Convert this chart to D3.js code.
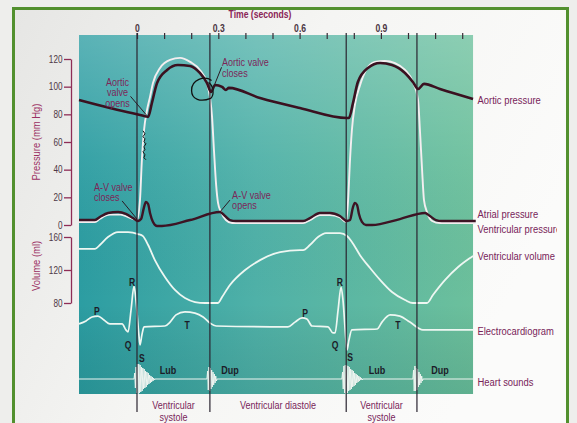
<!DOCTYPE html>
<html><head><meta charset="utf-8">
<script src="https://cdn.jsdelivr.net/npm/d3@7"></script>
<style>
html,body{margin:0;padding:0;background:#ededeb;}
svg{display:block;}
text{font-family:"Liberation Sans",Arial,Helvetica,sans-serif;}
</style></head><body>
<svg id="chart" width="577" height="423"></svg>
<script>
// ---------- DATA ----------
const timeTicks = [0,0.1,0.2,0.3,0.4,0.5,0.6,0.7,0.8,0.9,1.0,1.1,1.2];
const timeTickLabels = {"0":"0","0.3":"0.3","0.6":"0.6","0.9":"0.9"};
const pressureTicks = [0,20,40,60,80,100,120];
const volumeTicks = [80,120,160];
const phaseLines = [0, 0.269, 0.772, 1.033];

// [time (s), pressure (mm Hg)]
const aorticPressure = [[-0.214,90.4],[-0.10,84.6],[0.033,78.5],[0.041,78.1],[0.055,88.2],[0.074,102.7],[0.111,112.1],[0.151,115.7],[0.196,115.0],[0.232,109.9],[0.258,102.7],[0.273,96.2],[0.288,101.2],[0.314,99.8],[0.328,97.6],[0.339,99.1],[0.454,91.8],[0.601,84.6],[0.775,77.4],[0.782,77.4],[0.797,88.2],[0.815,103.4],[0.852,113.5],[0.897,117.1],[0.941,115.7],[0.989,109.9],[1.018,103.4],[1.037,98.3],[1.059,102.0],[1.118,98.3],[1.24,91.1]];
const atrialPressure = [[-0.214,3.6],[-0.155,3.6],[-0.137,5.8],[-0.107,8.7],[-0.07,9.4],[-0.041,8],[-0.015,5],[0.004,2.9],[0.015,4.3],[0.026,13],[0.033,16.6],[0.041,15.2],[0.048,8.7],[0.059,2.2],[0.074,-0.7],[0.092,-0.7],[0.196,3.6],[0.306,9.4],[0.325,6.5],[0.343,3.6],[0.365,2.9],[0.613,2.9],[0.638,5],[0.675,8.7],[0.712,8.7],[0.749,6.5],[0.775,2.9],[0.786,3.6],[0.797,13],[0.804,16],[0.812,14.5],[0.819,8],[0.83,2.2],[0.845,0],[0.867,0],[0.97,4.3],[1.063,8.7],[1.081,6.5],[1.103,3.6],[1.125,2.9],[1.25,2.9]];
const ventricularPressure = [[-0.214,2.2],[-0.155,2.2],[-0.137,4.5],[-0.10,7.5],[-0.06,7.5],[-0.03,5.5],[0,3.6],[0.011,18],[0.018,47],[0.026,68.7],[0.037,83],[0.048,92.6],[0.059,102.7],[0.085,113.5],[0.122,119.3],[0.159,120.8],[0.196,117.9],[0.232,112.1],[0.258,102.7],[0.269,92.6],[0.277,78],[0.284,54],[0.292,29],[0.299,16],[0.31,9.4],[0.328,3.6],[0.351,1.4],[0.613,1.4],[0.638,3.5],[0.675,7.2],[0.712,7.2],[0.749,5.5],[0.771,2.2],[0.779,18],[0.786,47],[0.793,68.7],[0.804,86.8],[0.823,101],[0.845,112],[0.878,117.9],[0.915,118.6],[0.952,117.1],[0.989,112.1],[1.018,103.4],[1.037,90.4],[1.044,68.7],[1.052,39.8],[1.059,18],[1.07,9.4],[1.089,2.9],[1.118,1.4],[1.25,1.4]];
// [time (s), volume (ml)]
const ventricularVolume = [[-0.214,145.5],[-0.155,145.5],[-0.137,150.3],[-0.107,160],[-0.07,166],[-0.033,166],[0.004,163.6],[0.022,161],[0.041,150.3],[0.066,132],[0.103,111.5],[0.14,95.8],[0.177,86],[0.214,81.2],[0.251,80],[0.299,80],[0.314,87.3],[0.343,101.8],[0.399,120],[0.454,132],[0.528,141.8],[0.601,144.2],[0.613,144.2],[0.638,150.3],[0.668,160],[0.697,164.8],[0.749,164.8],[0.775,161.2],[0.793,154],[0.823,138],[0.86,122.4],[0.897,108],[0.941,93.3],[0.989,83.6],[1.018,80],[1.07,80],[1.092,89.7],[1.137,108],[1.185,123.6],[1.229,134.5],[1.24,137]];
// [time (s), ECG (mV, approx)]
const ecg = [[-0.214,0.07],[-0.188,0.17],[-0.166,0.3],[-0.144,0.33],[-0.122,0.2],[-0.10,0.07],[-0.055,0.07],[-0.041,-0.13],[-0.033,-0.2],[-0.022,0.53],[-0.011,1.33],[-0.004,0.87],[0.007,-0.3],[0.011,-0.63],[0.018,-0.3],[0.026,-0.03],[0.103,0],[0.122,0.13],[0.144,0.37],[0.177,0.47],[0.214,0.43],[0.244,0.3],[0.269,0.1],[0.292,0],[0.557,-0.03],[0.583,0.13],[0.609,0.27],[0.627,0.23],[0.646,0],[0.705,-0.03],[0.723,-0.23],[0.731,-0.23],[0.742,0.53],[0.753,1.3],[0.76,0.87],[0.771,-0.47],[0.775,-0.8],[0.782,-0.47],[0.793,-0.13],[0.886,-0.1],[0.904,0.13],[0.934,0.37],[0.97,0.33],[1.007,0.13],[1.055,-0.13],[1.24,-0.13]];
// heart sounds: start times and sampled amplitudes (every 0.0025 s)
const soundStarts = [-0.011, 0.258, 0.756, 1.018];
const soundStep = 0.0025;
const lub1 = [0,6,-9,12,-14,15,-15,15,-14,14,-13,12,-12,11,-10,10,-9,8,-8,7,-6,6,-5,4,-4,3,-3,2,-2,1,-1,0];
const dup1 = [0,8,-11,12,-12,11,-10,9,-8,7,-6,5,-4,3,-2,0];
const lub2 = [0,7,-10,13,-14,14,-15,14,-14,13,-12,12,-11,10,-10,9,-8,8,-7,6,-6,5,-4,4,-3,3,-2,2,-1,1,-1,0];
const dup2 = [0,9,-12,13,-12,11,-11,10,-8,7,-6,5,-4,3,-2,0];
const heartSounds = [lub1, dup1, lub2, dup2];

const ecgLabelText = ["P","R","Q","S","T","P","R","Q","S","T"];
const ecgLabelAt = [[-0.148,0.5],[-0.018,1.47],[-0.033,-0.63],[0.018,-1.07],[0.185,0.03],[0.62,0.43],[0.749,1.47],[0.731,-0.63],[0.786,-1.03],[0.963,0.03]];
const soundLabelText = ["Lub","Dup","Lub","Dup"];
const soundLabelAt = [0.114, 0.343, 0.886, 1.118];
const seriesLabels = ["Aortic pressure","Atrial pressure","Ventricular pressure","Ventricular volume","Electrocardiogram","Heart sounds"];
const phaseLabels = [["Ventricular","systole"],["Ventricular diastole"],["Ventricular","systole"]];

// ---------- SETUP ----------
const svg = d3.select("#chart");
const W = 577, H = 423, SX = 0.82;
const x = d3.scaleLinear().domain([0,1.2]).range([137,462.2]);
const yP = d3.scaleLinear().domain([0,120]).range([225,59]);
const yV = d3.scaleLinear().domain([80,160]).range([303,237]);
const yE = d3.scaleLinear().domain([0,1]).range([326,296]);
const yH = d3.scaleLinear().domain([0,15]).range([379,364]);

// condensed text helper
function ctext(parent, tx, ty, str, o){
  o = o || {};
  return parent.append("text")
    .attr("transform", `translate(${tx},${ty})${o.rot?` rotate(${o.rot})`:""} scale(${SX},1)`)
    .attr("dy", o.dy || "0.35em")
    .attr("text-anchor", o.anchor || "start")
    .attr("font-size", o.size || 10.5)
    .attr("font-weight", o.weight || "normal")
    .attr("fill", o.fill || "#000")
    .text(str);
}

const defs = svg.append("defs");
const gH = defs.append("linearGradient").attr("id","panelH").attr("x1","0").attr("x2","1").attr("y1","0").attr("y2","0");
gH.append("stop").attr("offset","0").attr("stop-color","#2c9da2");
gH.append("stop").attr("offset","0.45").attr("stop-color","#4fb1a8");
gH.append("stop").attr("offset","1").attr("stop-color","#6cc09c");
const gV = defs.append("linearGradient").attr("id","panelV").attr("x1","0").attr("x2","0").attr("y1","0").attr("y2","1");
gV.append("stop").attr("offset","0").attr("stop-color","#ffffff").attr("stop-opacity",0.22);
gV.append("stop").attr("offset","0.35").attr("stop-color","#ffffff").attr("stop-opacity",0.05);
gV.append("stop").attr("offset","0.75").attr("stop-color","#000000").attr("stop-opacity",0.0);
gV.append("stop").attr("offset","1").attr("stop-color","#003a30").attr("stop-opacity",0.12);
const bgG = defs.append("linearGradient").attr("id","bgG").attr("x1","0").attr("x2","1").attr("y1","0").attr("y2","0.4");
bgG.append("stop").attr("offset","0").attr("stop-color","#e6e6e4");
bgG.append("stop").attr("offset","0.5").attr("stop-color","#f5f5f3");
bgG.append("stop").attr("offset","1").attr("stop-color","#fbfbfa");
defs.append("clipPath").attr("id","labelClip").append("rect").attr("x",0).attr("y",0).attr("width",557).attr("height",H);

// background + frame
svg.append("rect").attr("width",W).attr("height",H).attr("fill","#eeeeec");
svg.append("rect").attr("x",13.5).attr("y",8.5).attr("width",554).attr("height",440)
  .attr("fill","url(#bgG)").attr("stroke","#52902e").attr("stroke-width",3);

// panel
const px0 = x(-0.214), px1 = x(1.24), py0 = 35, py1 = 394;
svg.append("rect").attr("x",px0).attr("y",py0).attr("width",px1-px0).attr("height",py1-py0).attr("fill","url(#panelH)");
svg.append("rect").attr("x",px0).attr("y",py0).attr("width",px1-px0).attr("height",py1-py0).attr("fill","url(#panelV)");

// time axis
const axT = d3.axisTop(x).tickValues(timeTicks).tickSize(6).tickPadding(1)
  .tickFormat(d => timeTickLabels[String(Math.round(d*10)/10)] || "");
const gT = svg.append("g").attr("transform","translate(0,39)").call(axT);
gT.select(".domain").remove();
gT.selectAll(".tick line").attr("stroke","#3a2a35").attr("stroke-width",1.2);
gT.selectAll(".tick text").attr("fill","#4a3442").attr("font-size",10.5).attr("font-weight","bold")
  .attr("transform",`scale(${SX},1)`);
ctext(svg, 260, 14, "Time (seconds)", {anchor:"middle", size:10.5, weight:"bold", fill:"#8a2456"});

// left axes
function styleLeft(g){
  g.select(".domain").attr("stroke","#8e2d56").attr("stroke-width",1.3);
  g.selectAll(".tick line").attr("stroke","#8e2d56").attr("stroke-width",1.3);
  g.selectAll(".tick text").attr("fill","#4d3745").attr("font-size",10)
    .attr("x", -8.5/SX).attr("transform",`scale(${SX},1)`);
}
const gP = svg.append("g").attr("transform","translate(71,0)")
  .call(d3.axisLeft(yP).tickValues(pressureTicks).tickSize(7).tickSizeOuter(0).tickPadding(1));
styleLeft(gP);
const gVol = svg.append("g").attr("transform","translate(71,0)")
  .call(d3.axisLeft(yV).tickValues(volumeTicks).tickSize(7).tickSizeOuter(0).tickPadding(1));
styleLeft(gVol);
ctext(svg, 36, 142, "Pressure (mm Hg)", {rot:-90, anchor:"middle", size:11.5, fill:"#9b2f62"});
ctext(svg, 36, 266, "Volume (ml)", {rot:-90, anchor:"middle", size:11.5, fill:"#9b2f62"});

// curves
const lineP = d3.line().x(d=>x(d[0])).y(d=>yP(d[1])).curve(d3.curveMonotoneX);
const lineV = d3.line().x(d=>x(d[0])).y(d=>yV(d[1])).curve(d3.curveMonotoneX);
const lineE = d3.line().x(d=>x(d[0])).y(d=>yE(d[1])).curve(d3.curveMonotoneX);

svg.append("path").attr("d",lineV(ventricularVolume)).attr("fill","none").attr("stroke","#eef7f2").attr("stroke-width",1.8);
svg.append("path").attr("d",lineE(ecg)).attr("fill","none").attr("stroke","#eef7f2").attr("stroke-width",1.7);

// heart sounds
const hsPts = [[-0.214,0]];
heartSounds.forEach((amps,i)=>{ amps.forEach((a,j)=>hsPts.push([soundStarts[i]+j*soundStep,a])); });
hsPts.push([1.24,0]);
svg.append("path").attr("d",d3.line().x(d=>x(d[0])).y(d=>yH(d[1]))(hsPts))
  .attr("fill","none").attr("stroke","#eef4f0").attr("stroke-width",1.0);

svg.append("path").attr("d",lineP(ventricularPressure)).attr("fill","none").attr("stroke","#f4eef0").attr("stroke-width",1.9);

// phase lines
svg.selectAll(".phase").data(phaseLines).join("line")
  .attr("x1",d=>x(d)).attr("x2",d=>x(d)).attr("y1",33).attr("y2",412)
  .attr("stroke","#2a2430").attr("stroke-width",1.2);

svg.append("path").attr("d",lineP(atrialPressure)).attr("fill","none").attr("stroke","#3d1424").attr("stroke-width",2.4);
svg.append("path").attr("d",lineP(aorticPressure)).attr("fill","none").attr("stroke","#3a1120").attr("stroke-width",2.6);

// hand-drawn marks
const cx = x(0.242), cy = yP(98);
svg.append("path").attr("d",`M${cx+9},${cy-9} C${cx+2},${cy-14} ${cx-11},${cy-10} ${cx-11},${cy+1} C${cx-11},${cy+10} ${cx-2},${cy+13} ${cx+8},${cy+9} C${cx+12},${cy+6} ${cx+11},${cy-4} ${cx+6},${cy-7}`)
  .attr("fill","none").attr("stroke","#111").attr("stroke-width",1.3);
const sx = x(0.022), sy = yP(58);
svg.append("path").attr("d",`M${sx},${sy-14} l2,3 l-2,3 l2,2 l-1,3 l2,2 l-2,3 l1,3 l-2,2 l2,3 l-1,3 l2,2`)
  .attr("fill","none").attr("stroke","#151515").attr("stroke-width",1);

// ECG labels
ecgLabelText.forEach((s,i)=>ctext(svg, x(ecgLabelAt[i][0]), yE(ecgLabelAt[i][1]), s,
  {anchor:"middle", size:10.5, weight:"bold", fill:"#1c1c28"}));
soundLabelText.forEach((s,i)=>ctext(svg, x(soundLabelAt[i]), yH(9), s,
  {anchor:"middle", size:11, weight:"bold", fill:"#1c1c28"}));

// annotations
const annCol = "#7d2658";
function ann(lines, tx, p0, anchor, ptr){
  lines.forEach((s,i)=>ctext(svg, x(tx), yP(p0)+i*10.5, s, {anchor:anchor, size:11, fill:annCol}));
  svg.append("line").attr("x1",x(ptr[0])).attr("y1",yP(ptr[1])).attr("x2",x(ptr[2])).attr("y2",yP(ptr[3]))
    .attr("stroke","#2a1a24").attr("stroke-width",1);
}
ann(["Aortic","valve","opens"], -0.072, 103.4, "middle", [-0.024,93,0.037,79]);
ann(["Aortic valve","closes"], 0.314, 117.5, "start", [0.312,114,0.277,97]);
ann(["A-V valve","closes"], -0.159, 27.5, "start", [-0.055,17.4,0,4.3]);
ann(["A-V valve","opens"], 0.351, 21.7, "start", [0.343,18,0.306,9.4]);

// right labels
const rl = svg.append("g").attr("clip-path","url(#labelClip)");
const rlY = [yP(90.5), 214, 229, 256, 331, 382];
seriesLabels.forEach((s,i)=>ctext(rl, 477.5, rlY[i], s, {size:11.5, fill:"#782459"}));

// phase labels
const mids = [(phaseLines[0]+phaseLines[1])/2,(phaseLines[1]+phaseLines[2])/2,(phaseLines[2]+phaseLines[3])/2];
phaseLabels.forEach((ls,i)=>ls.forEach((s,j)=>ctext(svg, x(mids[i]), 405+j*12.5, s,
  {anchor:"middle", size:11, fill:"#782459"})));
</script>
</body></html>
